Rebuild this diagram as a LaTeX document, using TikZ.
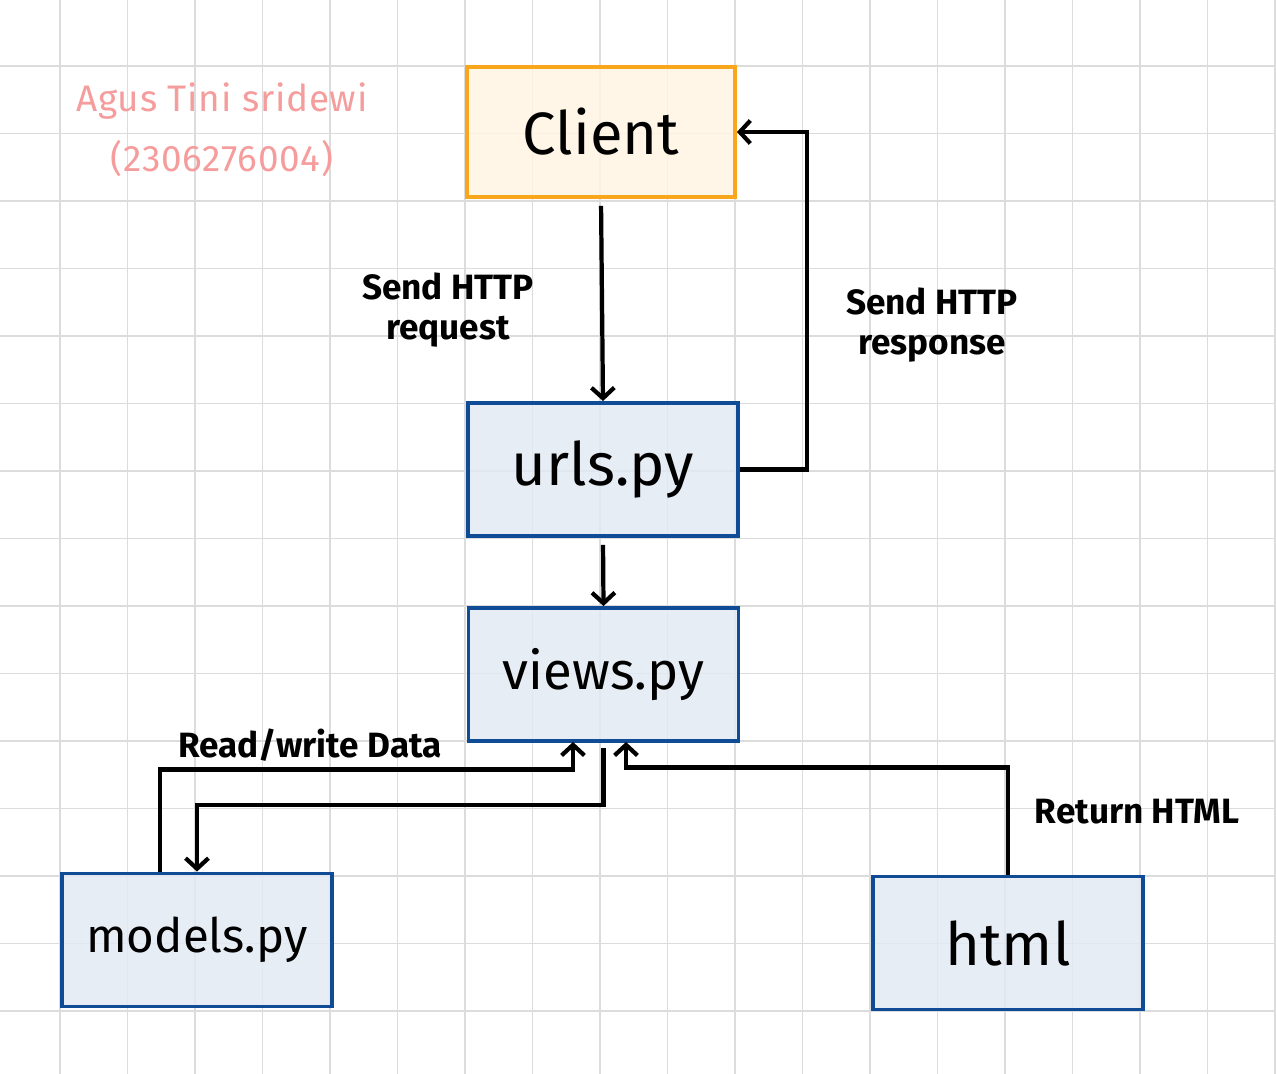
\documentclass[tikz,border=0pt]{standalone}
\usepackage{fontspec}
\setmainfont{Fira Sans}
\usetikzlibrary{arrows.meta}
\definecolor{gridgray}{HTML}{DCDCDC}
\definecolor{clientline}{HTML}{F8A61C}
\definecolor{clientfill}{HTML}{FFF4E4}
\definecolor{pyline}{HTML}{104C96}
\definecolor{pyfill}{HTML}{E3EAF3}
\definecolor{namepink}{HTML}{F59C9C}
\begin{document}
\begin{tikzpicture}[x=0.02cm, y=-0.02cm, very thick,
  pybox/.style={draw=pyline, fill=pyfill, line width=2.2pt, fill opacity=0.85, text opacity=1,
    minimum width=5.4cm, minimum height=2.66cm, font=\fontsize{34}{40}\selectfont},
  clientbox/.style={pybox, draw=clientline, fill=clientfill, minimum width=5.36cm, minimum height=2.6cm},
  lbl/.style={align=center, font=\fontsize{20}{23}\selectfont\bfseries},
  arr/.style={line width=2.4pt, -{Straight Barb[length=6pt,width=13pt]}}]
\useasboundingbox (0,0) rectangle (1276,1074);
% grid paper
\foreach \gx in {0,...,18} \draw[gridgray, line width=0.9pt] (60+67.5*\gx,0) -- (60+67.5*\gx,1074);
\foreach \gy in {0,...,14} \draw[gridgray, line width=0.9pt] (0,66+67.5*\gy) -- (1276,66+67.5*\gy);
% author
\node[namepink, font=\fontsize{21}{34}\selectfont\addfontfeature{LetterSpace=2}, align=center] (author) at (222,130) {Agus Tini sridewi\\(2306276004)};
% boxes
\node[clientbox] (client) at (601,132) {Client};
\node[pybox] (urls) at (603,469.5) {urls.py};
\node[pybox, font=\fontsize{30}{36}\selectfont] (views) at (603.5,674.5) {views.py};
\node[pybox, font=\fontsize{27}{32}\selectfont] (models) at (197,940) {models.py};
\node[pybox] (html) at (1008,943) {html};
\coordinate (readin) at (573,742);
\coordinate (htmlin) at (626,742);
% connectors
\draw[arr, shorten <=4pt] (client.south) -- (urls.north);
\draw[arr] (urls.east) -- ++(67,0) |- (client.east);
\draw[arr, shorten <=4pt] (urls.south) -- (views.north);
\draw[arr] ([xshift=-0.74cm]models.north) -- ++(0,-102) -| (readin);
\draw[arr, shorten <=3pt] (views.south) -- ++(0,62) -| (models.north);
\draw[arr] (html.north) -- ++(0,-107) -| (htmlin);
% labels
\node[lbl] (req) at (448,310) {Send HTTP\\request};
\node[lbl] (resp) at (932,325) {Send HTTP\\response};
\node[lbl] (rw) at (310,745) {Read/write Data};
\node[lbl] (ret) at (1137,812) {Return HTML};
\end{tikzpicture}
\end{document}
